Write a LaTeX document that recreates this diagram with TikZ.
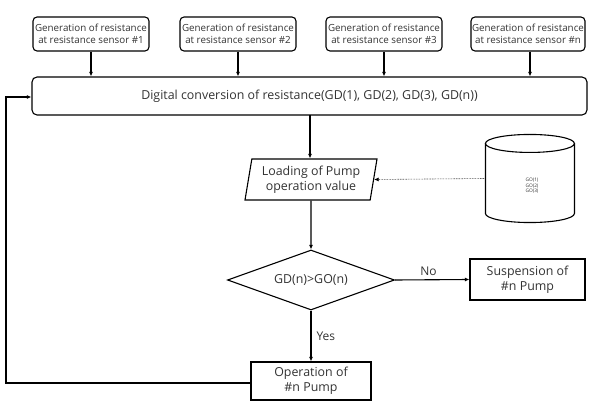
\documentclass[tikz,border=0pt]{standalone}
\usepackage{fontspec}
\setmainfont{Open Sans}
\usetikzlibrary{shapes.geometric,arrows.meta}
\begin{document}
\begin{tikzpicture}[x=1pt,y=-1pt,
  line width=1.1pt,
  txt/.style={text=black!80, align=center, inner sep=0pt},
  sensor/.style={txt, draw, rounded corners=4pt, minimum width=116pt, minimum height=34pt, font=\fontsize{9.8}{11.5}\selectfont},
  bigbox/.style={txt, draw, rounded corners=5pt, minimum width=555pt, minimum height=38pt, font=\fontsize{12.4}{14}\selectfont},
  plainbox/.style={txt, draw, minimum width=118pt, minimum height=40pt, font=\fontsize{12.4}{15}\selectfont},
  arr/.style={-{Latex[length=4.5pt,width=4pt]}},
  lbl/.style={txt, font=\fontsize{12}{14}\selectfont}
]
\useasboundingbox (0,0) rectangle (589,403);
% sensors
\node[sensor] (s1) at (91,34) {Generation of resistance\\at resistance sensor \#1};
\node[sensor] (s2) at (238,34) {Generation of resistance\\at resistance sensor \#2};
\node[sensor] (s3) at (384,34) {Generation of resistance\\at resistance sensor \#3};
\node[sensor, minimum width=114pt] (s4) at (528,34) {Generation of resistance\\at resistance sensor \#n};
% main
\node[bigbox] (dc) at (309.5,96) {Digital conversion of resistance(GD(1), GD(2), GD(3), GD(n))};
\draw[arr] (s1.south) -- (s1.south |- dc.north);
\draw[arr] (s2.south) -- (s2.south |- dc.north);
\draw[arr] (s3.south) -- (s3.south |- dc.north);
\path (s4.south) ++(2,0) coordinate (s4b);
\draw[arr] (s4b) -- (s4b |- dc.north);
% loading
\node[txt, draw, trapezium, trapezium left angle=76, trapezium right angle=104,
  trapezium stretches body, minimum width=132pt, minimum height=41pt,
  font=\fontsize{12.4}{15}\selectfont] (load) at (311,179.5) {Loading of Pump\\operation value};
\path (310,115) coordinate (dcb);
\draw[arr] (dcb) -- (dcb |- load.north);
% database
\node[txt, minimum width=89pt, minimum height=87pt] (db) at (530.5,178.5) {};
\path (db.north west) ++(0,9) coordinate (cA) ++(44.5,0) coordinate (cAc) ++(44.5,0) coordinate (cB);
\path (db.south west) ++(0,-9) coordinate (cC);
\draw (cAc) ellipse [x radius=44.5pt, y radius=9pt];
\draw (cA) -- (cC) arc[start angle=180, end angle=360, x radius=44.5pt, y radius=9pt] -- (cB);
\node[txt, font=\fontsize{4.8}{5.4}\selectfont] (go) at (532,186) {GO(1)\\GO(2)\\GO(3)};
\draw[arr, densely dotted, line width=0.6pt] (db.west) -- (load.east);
% decision
\node[txt, draw, diamond, aspect=2.8, minimum width=167pt, minimum height=60pt, inner sep=0pt,
  font=\fontsize{12.4}{14}\selectfont] (dec) at (311,280) {GD(n)>GO(n)};
\draw[arr] (load.south) -- (dec.north);
% suspension
\node[plainbox, minimum width=115pt, minimum height=41pt] (sus) at (527.5,279.5) {Suspension of\\\#n Pump};
\draw[arr] (dec.east) -- node[lbl, above=4pt, pos=0.45] {No} (sus.west);
% operation
\node[plainbox, minimum width=120pt, minimum height=38pt] (op) at (311,381) {Operation of\\\#n Pump};
\draw[arr] (dec.south) -- node[lbl, right=5pt, pos=0.5] {Yes} (op.north);
% feedback
\coordinate (fb1) at (6,383);
\coordinate (fb2) at (6,97);
\draw[arr] (op.west |- fb1) -- (fb1) -- (fb2) -- (fb2 -| dc.west);
\end{tikzpicture}
\end{document}
